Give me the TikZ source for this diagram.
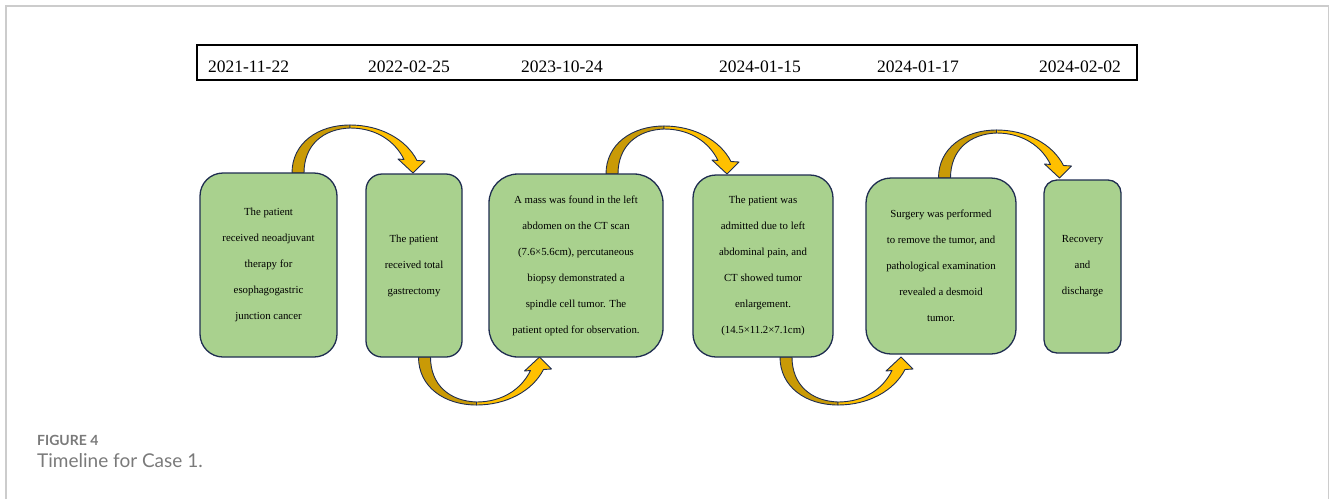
\documentclass[tikz,border=0pt]{standalone}
\usepackage{fontspec}
\setmainfont{Liberation Serif}
\newfontfamily\capfont{Lato}
\usetikzlibrary{positioning, calc}
\definecolor{boxgreen}{HTML}{A9D18E}
\definecolor{boxline}{HTML}{1F2D50}
\definecolor{arrgold}{HTML}{C99A06}
\definecolor{arryellow}{HTML}{FFC000}
\definecolor{framegray}{HTML}{CCCCCC}
\definecolor{capgray}{HTML}{7A7A7A}

% bent arrow: #1 = start coordinate, #2 = -1 above the boxes, 1 below
\newcommand{\bendarrow}[2]{%
  \begin{scope}[shift={(#1)}, yscale=#2, line width=0.9pt, line join=round]
    \filldraw[fill=arrgold, draw=boxline] (-6,0) .. controls (-6,30) and (20,48) .. (52,48)
      -- (52,45) .. controls (25,44) and (6,28) .. (6,0) -- cycle;
    \filldraw[fill=arryellow, draw=boxline] (52,48) .. controls (82,48) and (108,34) .. (119,12.5)
      -- (127,12) -- (115,0) -- (100,14) -- (106,13.5) .. controls (97,32) and (78,45) .. (52,45) -- cycle;
  \end{scope}}

\tikzset{
  tlbox/.style={draw=boxline, fill=boxgreen, line width=1.3pt, align=center, inner sep=0pt,
    font=\fontsize{10.8}{26}\selectfont, execute at begin node={\rule{0pt}{13pt}}},
  datetext/.style={anchor=base, font=\fontsize{17.5}{20}\selectfont}
}

\begin{document}
\begin{tikzpicture}[x=1pt, y=-1pt]

% Page and frame
\useasboundingbox (0,0) rectangle (1330,499);
\draw[framegray, line width=1.5pt] (6,499) -- (6,6) -- (1328.5,6) -- (1328.5,499);

% Date bar
\node[draw, line width=1.7pt, minimum width=940pt, minimum height=35pt, inner sep=0pt] (dates) at (667,62.5) {};
\foreach \x/\d [count=\i] in {248.5/2021-11-22, 409/2022-02-25, 562/2023-10-24, 760/2024-01-15, 918/2024-01-17, 1080/2024-02-02} {
  \node[datetext] (d\i) at (\x,72) {\d};
}

% Anchors for the bent arrows
\coordinate (s1) at (298,173);
\coordinate (s2) at (424.5,357);
\coordinate (s3) at (612,174);
\coordinate (s4) at (786,357);
\coordinate (s5) at (944.5,178);

% Arrows
\bendarrow{s1}{-1}
\bendarrow{s2}{1}
\bendarrow{s3}{-1}
\bendarrow{s4}{1}
\bendarrow{s5}{-1}

% Event boxes
\node[tlbox, minimum width=137pt, minimum height=184pt, rounded corners=23pt] (b1) at (268.5,265)
  {The patient\\received neoadjuvant\\therapy for\\esophagogastric\\junction cancer};
\node[tlbox, minimum width=96pt, minimum height=183pt, rounded corners=16pt] (b2) at (414,265.5)
  {The patient\\received total\\gastrectomy};
\node[tlbox, minimum width=174pt, minimum height=183pt, rounded corners=29pt] (b3) at (576,265.5)
  {A mass was found in the left\\abdomen on the CT scan\\(7.6×5.6cm), percutaneous\\biopsy demonstrated a\\spindle cell tumor. The\\patient opted for observation.};
\node[tlbox, minimum width=140pt, minimum height=182pt, rounded corners=23pt] (b4) at (763,266)
  {The patient was\\admitted due to left\\abdominal pain, and\\CT showed tumor\\enlargement.\\(14.5×11.2×7.1cm)};
\node[tlbox, minimum width=150pt, minimum height=176pt, rounded corners=25pt] (b5) at (941,266)
  {Surgery was performed\\to remove the tumor, and\\pathological examination\\revealed a desmoid\\tumor.};
\node[tlbox, minimum width=77pt, minimum height=173pt, rounded corners=13pt] (b6) at (1082.5,266.5)
  {Recovery\\and\\discharge};

% Caption
\node[anchor=base west, inner sep=0pt, text=capgray, font=\capfont\bfseries\fontsize{14}{16}\selectfont] (fig) at (37,445) {FIGURE 4};
\node[anchor=base west, inner sep=0pt, text=capgray, font=\capfont\fontsize{19}{21}\selectfont] (cap) at (37,467) {Timeline for Case 1.};

\end{tikzpicture}
\end{document}
